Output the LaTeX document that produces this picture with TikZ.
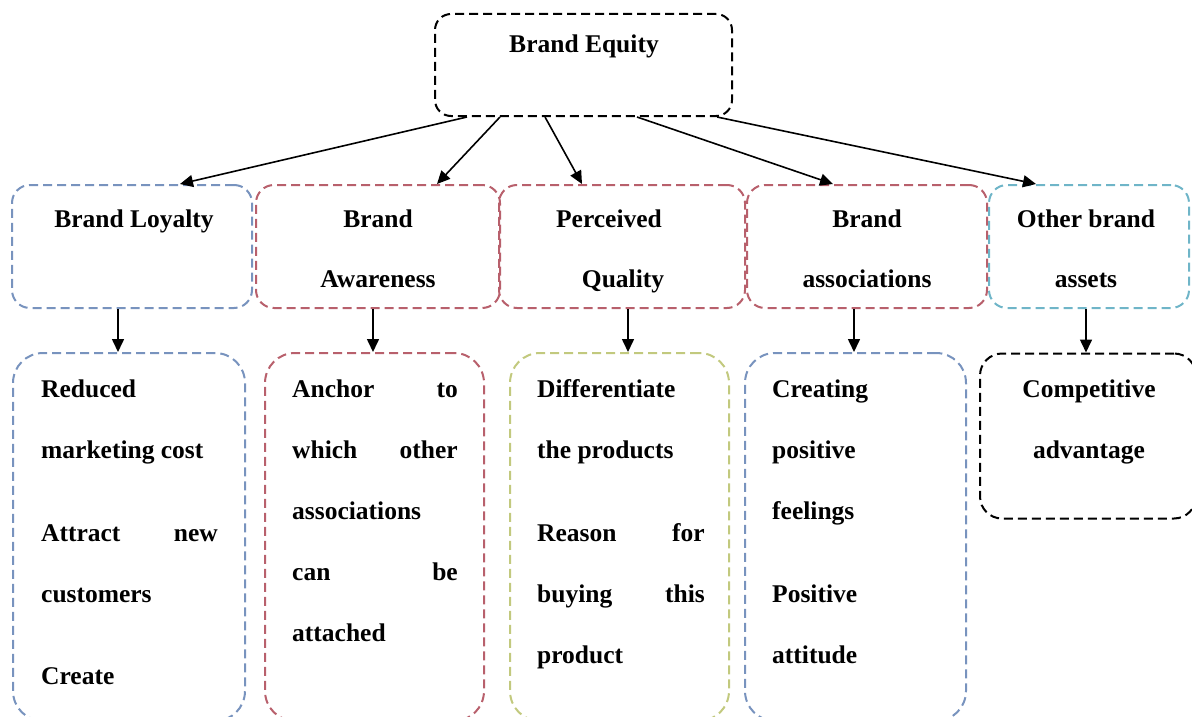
\documentclass[tikz,border=0pt]{standalone}
\usepackage{fontspec}
\setmainfont{Liberation Serif}
\usetikzlibrary{arrows.meta}
\definecolor{cblue}{HTML}{7893BE}
\definecolor{cred}{HTML}{B8606C}
\definecolor{cgreen}{HTML}{C2C97E}
\definecolor{ccyan}{HTML}{6FB5C8}
\tikzset{
  box/.style={draw, dash pattern=on 9pt off 5pt, line width=2pt, inner sep=0pt, rectangle},
  txt/.style={font=\fontsize{25.5pt}{30pt}\selectfont\bfseries, inner sep=0pt},
  arr/.style={line width=1.6pt, -{Triangle[length=13pt,width=12pt]}},
}
\begin{document}
\begin{tikzpicture}[x=1pt,y=-1pt]
\useasboundingbox (0,0) rectangle (1192,717);
\clip (0,0) rectangle (1192,717);
% top box
\node[box, draw=black, rounded corners=16pt, minimum width=297pt, minimum height=102pt] (be) at (583.5,65) {};
\node[txt, anchor=base] (tbe) at (584,53) {Brand Equity};
% top row
\node[box, draw=cblue, rounded corners=18pt, minimum width=240pt, minimum height=123pt] (bl) at (132,246.5) {};
\node[box, draw=cred, rounded corners=18pt, minimum width=244pt, minimum height=123pt] (ba) at (378,246.5) {};
\node[box, draw=cred, rounded corners=18pt, minimum width=246pt, minimum height=123pt] (pq) at (622,246.5) {};
\node[box, draw=cred, rounded corners=18pt, minimum width=240pt, minimum height=123pt] (bs) at (867,246.5) {};
\node[box, draw=ccyan, rounded corners=18pt, minimum width=200pt, minimum height=123pt] (ob) at (1089,246.5) {};
\node[txt, anchor=base] (tbl) at (134,227) {Brand Loyalty};
\node[txt, anchor=base] (tba1) at (378,227) {Brand};
\node[txt, anchor=base] (tba2) at (378,287) {Awareness};
\node[txt, anchor=base] (tpq1) at (609,227) {Perceived};
\node[txt, anchor=base] (tpq2) at (623,287) {Quality};
\node[txt, anchor=base] (tbs1) at (867,227) {Brand};
\node[txt, anchor=base] (tbs2) at (867,287) {associations};
\node[txt, anchor=base] (tob1) at (1086,227) {Other brand};
\node[txt, anchor=base] (tob2) at (1086,287) {assets};
% bottom row
\node[box, draw=cblue, rounded corners=30pt, minimum width=232pt, minimum height=368pt] (r1) at (129,537) {};
\node[box, draw=cred, rounded corners=30pt, minimum width=219pt, minimum height=368pt] (r2) at (374.5,537) {};
\node[box, draw=cgreen, rounded corners=30pt, minimum width=219pt, minimum height=368pt] (r3) at (619.5,537) {};
\node[box, draw=cblue, rounded corners=30pt, minimum width=221pt, minimum height=368pt] (r4) at (855.5,537) {};
\node[box, draw=black, rounded corners=22pt, minimum width=216pt, minimum height=165pt] (r5) at (1088,436) {};
% texts box 1
\node[txt, anchor=base west] (a1) at (41,397) {Reduced};
\node[txt, anchor=base west] (a2) at (41,458) {marketing cost};
\node[txt, anchor=base west] (a3) at (41,541) {Attract};
\node[txt, anchor=base east] (a3b) at (218,541) {new};
\node[txt, anchor=base west] (a4) at (41,602) {customers};
\node[txt, anchor=base west] (a5) at (41,684) {Create};
% texts box 2
\node[txt, anchor=base west] (b1) at (292,397) {Anchor};
\node[txt, anchor=base east] (b1b) at (458,397) {to};
\node[txt, anchor=base west] (b2) at (292,458) {which};
\node[txt, anchor=base east] (b2b) at (458,458) {other};
\node[txt, anchor=base west] (b3) at (292,519) {associations};
\node[txt, anchor=base west] (b4) at (292,580) {can};
\node[txt, anchor=base east] (b4b) at (458,580) {be};
\node[txt, anchor=base west] (b5) at (292,641) {attached};
% texts box 3
\node[txt, anchor=base west] (c1) at (537,397) {Differentiate};
\node[txt, anchor=base west] (c2) at (537,458) {the products};
\node[txt, anchor=base west] (c3) at (537,541) {Reason};
\node[txt, anchor=base east] (c3b) at (705,541) {for};
\node[txt, anchor=base west] (c4) at (537,602) {buying};
\node[txt, anchor=base east] (c4b) at (705,602) {this};
\node[txt, anchor=base west] (c5) at (537,663) {product};
% texts box 4
\node[txt, anchor=base west] (d1) at (772,397) {Creating};
\node[txt, anchor=base west] (d2) at (772,458) {positive};
\node[txt, anchor=base west] (d3) at (772,519) {feelings};
\node[txt, anchor=base west] (d4) at (772,602) {Positive};
\node[txt, anchor=base west] (d5) at (772,663) {attitude};
% texts box 5
\node[txt, anchor=base] (e1) at (1089,397) {Competitive};
\node[txt, anchor=base] (e2) at (1089,458) {advantage};
% arrows from top
\draw[arr] (467,0 |- be.south) -- (180,0 |- bl.north);
\draw[arr] (500,0 |- be.south) -- (437,0 |- ba.north);
\draw[arr] (545,0 |- be.south) -- (582,0 |- pq.north);
\draw[arr] (637,0 |- be.south) -- (833,0 |- bs.north);
\draw[arr] (717,0 |- be.south) -- (1036,0 |- ob.north);
% vertical arrows
\draw[arr] (118,0 |- bl.south) -- (118,0 |- r1.north);
\draw[arr] (373,0 |- ba.south) -- (373,0 |- r2.north);
\draw[arr] (628,0 |- pq.south) -- (628,0 |- r3.north);
\draw[arr] (854,0 |- bs.south) -- (854,0 |- r4.north);
\draw[arr] (1086,0 |- ob.south) -- (1086,0 |- r5.north);
\end{tikzpicture}
\end{document}
